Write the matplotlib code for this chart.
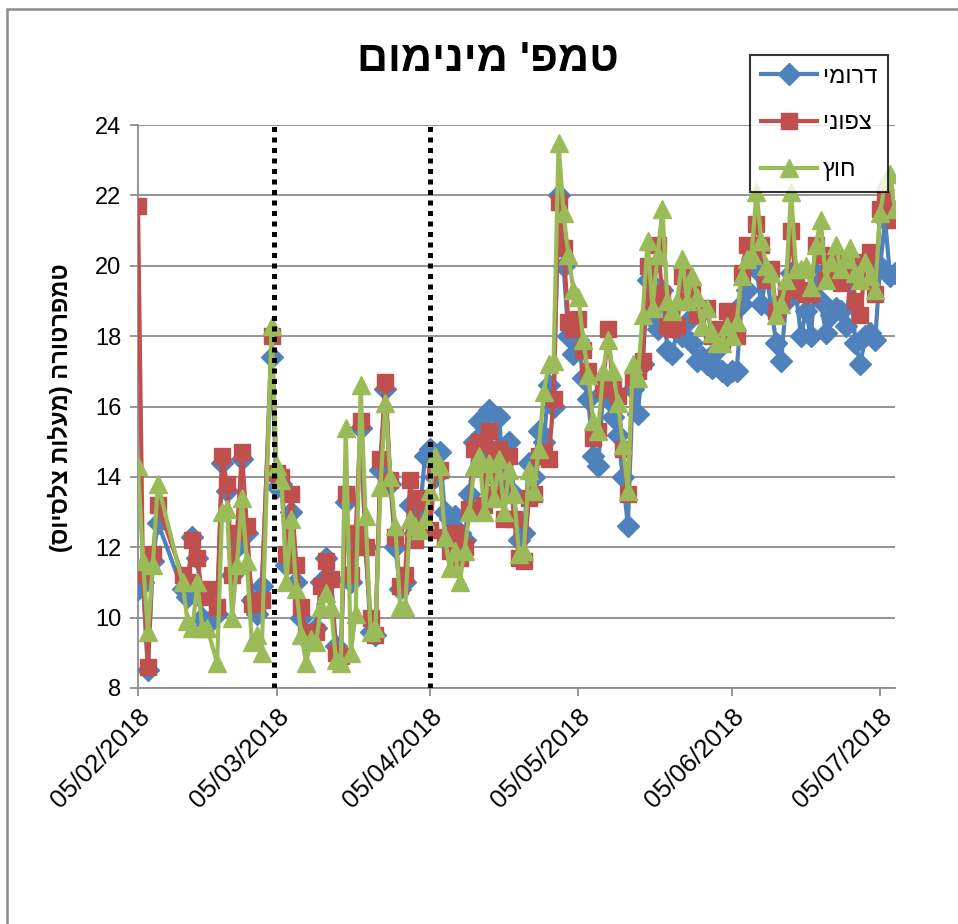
import matplotlib
matplotlib.use("Agg")
import matplotlib.pyplot as plt
import matplotlib.dates as mdates
from matplotlib.patches import Rectangle
import pandas as pd

plt.rcParams['font.family'] = ['Liberation Sans', 'DejaVu Sans']

# ---------------- data ----------------
dates = (
    ["2018-02-%02d" % d for d in [5, 6, 7, 8, 9, 14, 15, 16, 17, 18, 19, 21, 22, 23, 24, 25, 26, 27, 28]]
    + ["2018-03-%02d" % d for d in [1, 2] + list(range(4, 32))]
    + ["2018-04-%02d" % d for d in range(1, 31)]
    + ["2018-05-%02d" % d for d in range(1, 32)]
    + ["2018-06-%02d" % d for d in range(1, 31)]
    + ["2018-07-%02d" % d for d in range(1, 9)]
)

# דרומי (south)
south = [
    # Feb
    10.8, 11.0, 8.5, 11.6, 12.7, 10.8, 10.6, 12.3, 11.7, 10.0, 9.8, 10.1, 14.4, 13.6, 11.2, 12.0, 14.5, 12.4, 10.5,
    # Mar
    10.1, 10.9, 17.4, 13.7, 13.8, 11.5, 13.0, 11.0, 10.0, 9.4, 9.5, 9.7, 11.0, 11.7, 11.1, 9.2, 9.0,
    13.3, 11.0, 12.0, 15.4, 12.0, 9.6, 9.5, 14.2, 16.5, 13.8, 12.0, 10.8, 11.0,
    # Apr
    13.2, 12.4, 13.0, 14.6, 14.8, 14.0, 14.7, 13.0, 12.8, 12.9, 12.4, 12.2, 13.5, 15.0, 15.6,
    14.3, 15.9, 14.0, 15.7, 13.6, 15.0, 13.5, 12.2, 12.4, 14.4, 14.0, 15.3, 15.0, 16.6, 16.0,
    # May
    22.0, 20.0, 18.0, 17.5, 17.9, 16.8, 16.2, 14.6, 14.3, 16.4, 16.2, 15.7, 15.2, 14.0, 12.6, 16.5,
    15.8, 17.2, 19.6, 18.5, 18.2, 19.3, 17.6, 17.5, 18.2, 18.0, 18.4, 17.8, 17.3, 17.4, 17.2,
    # Jun
    17.1, 17.6, 17.0, 16.9, 17.0, 17.0, 18.9, 19.3, 20.2, 19.9, 18.9, 19.8, 18.8, 17.8, 17.3,
    19.0, 19.8, 19.2, 18.0, 18.7, 18.0, 19.8, 19.0, 18.1, 18.6, 18.8, 18.7, 18.3, 19.5, 17.8,
    # Jul
    17.2, 18.0, 18.1, 17.9, 20.0, 21.3, 19.7, 19.8,
]

# צפוני (north)
north = [
    # Feb
    21.7, 11.2, 8.6, 11.8, 13.2, 11.2, 11.0, 12.2, 11.7, 10.6, 10.8, 10.3, 14.6, 13.8, 11.2, 12.4, 14.7, 12.6, 10.4,
    # Mar
    10.4, 10.5, 18.0, 14.1, 14.0, 11.8, 13.5, 11.5, 10.3, 9.5, 9.6, 9.6, 10.9, 11.6, 11.1, 9.0, 8.9,
    13.5, 11.2, 12.4, 15.6, 12.0, 10.0, 9.5, 14.5, 16.7, 13.9, 12.3, 10.9, 11.2,
    # Apr
    13.9, 12.2, 13.4, 13.3, 12.5, 14.2, 14.2, 12.3, 11.9, 12.4, 11.7, 12.0, 13.1, 14.8, 15.0,
    13.2, 15.3, 13.5, 14.8, 12.8, 14.6, 12.8, 11.7, 11.6, 13.4, 13.5, 14.6, 14.7, 14.5, 16.2,
    # May
    21.8, 20.5, 18.4, 18.2, 18.5, 17.6, 17.0, 15.1, 15.3, 16.5, 18.2, 16.5, 16.3, 14.8, 13.5, 16.8,
    17.0, 17.3, 20.0, 19.0, 20.6, 19.2, 18.3, 18.2, 18.3, 19.7, 19.0, 19.3, 18.6, 18.7, 18.8,
    # Jun
    18.0, 18.2, 17.9, 18.7, 18.4, 18.0, 19.8, 20.6, 20.4, 21.2, 20.6, 19.6, 19.9, 18.7, 18.9,
    19.3, 21.0, 19.4, 19.3, 19.2, 19.2, 20.6, 20.3, 19.6, 19.8, 20.1, 19.5, 19.8, 20.1, 19.0,
    # Jul
    18.6, 20.1, 20.4, 19.2, 21.6, 21.9, 21.6, 21.3,
]

# חוץ (outside)
outside = [
    # Feb
    14.3, 11.6, 9.6, 11.5, 13.8, 11.0, 9.9, 9.7, 11.0, 9.7, 9.7, 8.7, 13.0, 13.1, 10.0, 11.5, 13.4, 11.6, 9.3,
    # Mar
    9.5, 9.0, 18.3, 14.3, 13.9, 11.0, 12.8, 10.8, 9.5, 8.7, 9.4, 9.3, 10.3, 10.7, 10.3, 8.8, 8.7,
    15.4, 9.0, 10.1, 16.6, 12.9, 9.6, 9.7, 13.7, 16.1, 14.0, 12.6, 10.3, 10.3,
    # Apr
    12.8, 12.6, 12.5, 12.8, 13.6, 14.6, 14.3, 12.3, 11.4, 11.9, 11.0, 11.9, 13.0, 14.3, 14.6,
    13.0, 14.4, 13.4, 14.5, 13.0, 14.2, 13.5, 11.8, 11.9, 14.2, 13.6, 14.8, 16.4, 17.2, 17.3,
    # May
    23.5, 21.5, 20.3, 19.3, 19.1, 17.9, 16.9, 15.6, 15.3, 17.0, 17.9, 17.0, 16.1, 14.9, 13.6, 17.2,
    16.8, 18.6, 20.7, 18.8, 20.3, 21.6, 19.0, 18.7, 19.0, 20.2, 19.0, 19.7, 19.1, 18.3, 18.8,
    # Jun
    18.1, 17.8, 17.8, 18.3, 18.0, 18.4, 19.7, 20.2, 20.3, 22.1, 20.7, 20.0, 19.8, 18.6, 18.9,
    19.6, 22.1, 19.9, 19.9, 20.0, 19.4, 20.6, 21.3, 19.6, 20.1, 20.6, 19.9, 20.2, 20.5, 19.8,
    # Jul
    19.6, 20.1, 19.7, 19.3, 21.5, 22.4, 22.6, 21.6,
]

series_names = ["דרומי", "צפוני", "חוץ"]
title_text = "טמפ' מינימום"
ylabel_text = "טמפרטורה (מעלות צלסיוס)"
marker_dates = ["2018-03-04 10:00", "2018-04-05 00:00"]
xtick_dates = ["2018-02-05", "2018-03-05", "2018-04-05", "2018-05-05", "2018-06-05", "2018-07-05"]
yticks = [8, 10, 12, 14, 16, 18, 20, 22, 24]


def rtl(s):
    mirror = {"(": ")", ")": "("}
    return "".join(mirror.get(c, c) for c in reversed(s))


# ---------------- figure ----------------
W, H = 958, 924
fig = plt.figure(figsize=(W / 100, H / 100), dpi=100)
L, R, T, B = 138, 895, 125, 688
ax = fig.add_axes([L / W, 1 - B / H, (R - L) / W, (B - T) / H])

x = pd.to_datetime(dates)
colors = ["#4F81BD", "#C0504D", "#9BBB59"]
markers = ["D", "s", "^"]
msizes = [11, 11, 13]
handles = []
for vals, c, m, ms, name in zip([south, north, outside], colors, markers, msizes, series_names):
    ln, = ax.plot(x, vals, color=c, lw=3.0, marker=m, markersize=ms,
                  markeredgecolor=c, markerfacecolor=c, zorder=3,
                  solid_joinstyle="round")
    handles.append(ln)

for d in marker_dates:
    ax.axvline(pd.Timestamp(d), color="black", lw=3.6, linestyle=(0, (1, 1.1)), zorder=4)

ax.set_xlim(pd.Timestamp("2018-02-05"), pd.Timestamp("2018-07-08"))
ax.set_ylim(8, 24)
ax.set_yticks(yticks)
ax.set_yticklabels([str(v) for v in yticks], fontsize=17)
ax.set_xticks(pd.to_datetime(xtick_dates))
ax.xaxis.set_major_formatter(mdates.DateFormatter("%d/%m/%Y"))
for lab in ax.get_xticklabels():
    lab.set_rotation(45)
    lab.set_ha("right")
    lab.set_rotation_mode("anchor")
    lab.set_fontsize(18.5)

ax.grid(axis="y", color="#8c8c8c", lw=1.3, zorder=0)
ax.set_axisbelow(True)
for s in ["top", "right"]:
    ax.spines[s].set_visible(False)
for s in ["left", "bottom"]:
    ax.spines[s].set_color("#8c8c8c")
    ax.spines[s].set_linewidth(1.3)
ax.tick_params(axis="both", direction="out", length=6, width=1.3, color="#8c8c8c", pad=6)

fig.text(60 / W, 1 - 408 / H, rtl(ylabel_text), fontsize=17, fontweight="bold",
         rotation=90, ha="center", va="center")
fig.text(488 / W, 1 - 60 / H, rtl(title_text), fontsize=31, fontweight="bold",
         ha="center", va="center")

leg = fig.legend(handles, [rtl(n) for n in series_names], loc="upper left",
                 bbox_to_anchor=(750 / W, 1 - 55 / H), fontsize=17, frameon=True,
                 fancybox=False, edgecolor="black", handlelength=2.4,
                 labelspacing=1.05, borderpad=0.45, handletextpad=0.25,
                 borderaxespad=0)
leg.get_frame().set_linewidth(1.5)
leg.set_zorder(10)

# chart-area border (left and top edges visible)
fig.patches.append(Rectangle((7 / W, -0.2), 1.5, (1 - 9 / H) + 0.2, transform=fig.transFigure,
                             fill=False, edgecolor="#8c8c8c", lw=1.8, zorder=0))

fig.savefig("out.png", dpi=100)
